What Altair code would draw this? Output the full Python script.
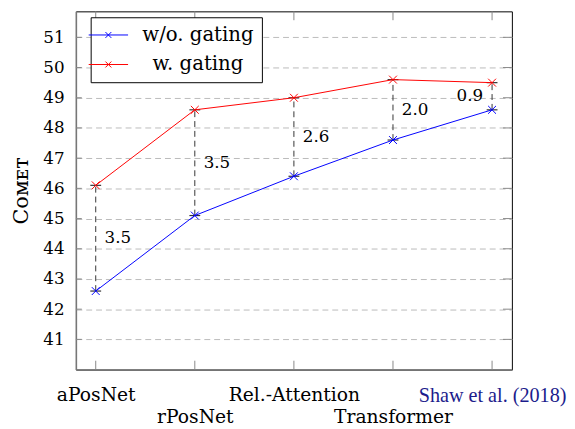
import json
import altair as alt
import pandas as pd

models = ["aPosNet", "rPosNet", "Rel.-Attention", "Transformer", "Shaw et al. (2018)"]
wo_gating = [42.6, 45.1, 46.4, 47.6, 48.6]
w_gating = [46.1, 48.6, 49.0, 49.6, 49.5]
gap_labels = ["3.5", "3.5", "2.6", "2.0", "0.9"]
y_ticks = [41, 42, 43, 44, 45, 46, 47, 48, 49, 50, 51]
series_names = ["w/o. gating", "w. gating"]
series_colors = ["#0000ff", "#ff0000"]

W, H = 443, 364
SERIF = "DejaVu Serif"

idx = list(range(len(models)))
wide = pd.DataFrame({"idx": idx, "wo": wo_gating, "w": w_gating, "gap": gap_labels})
wide["mid"] = (wide["wo"] + wide["w"]) / 2
long = pd.concat([
    pd.DataFrame({"idx": idx, "value": wo_gating, "series": series_names[0]}),
    pd.DataFrame({"idx": idx, "value": w_gating, "series": series_names[1]}),
], ignore_index=True)
yt = pd.DataFrame({"tick": y_ticks})
xt = pd.DataFrame({"idx": idx})

names_js = json.dumps(models)
xs = alt.Scale(domain=[-0.2, 4.2], nice=False, zero=False)
ys = alt.Scale(domain=[40, 51.86], nice=False, zero=False)

xaxis = alt.Axis(
    values=idx,
    labelExpr=f"datum.value % 2 == 1 ? ['', {names_js}[datum.value]] : {names_js}[datum.value]",
    grid=False, ticks=False, title=None,
    labelPadding=16, labelLineHeight=23, labelBaseline="top",
    labelFont={"condition": {"test": "datum.value == 4", "value": "Liberation Serif"}, "value": SERIF},
    labelFontSize={"condition": {"test": "datum.value == 4", "value": 20.5}, "value": 19},
    labelColor={"condition": {"test": "datum.value == 4", "value": "#1c1c8c"}, "value": "#000000"},
    domainColor="#777777", domainWidth=1.5, labelFlush=False, labelOverlap=False,
)
yaxis = alt.Axis(
    values=y_ticks, grid=True, gridDash=[6, 4], gridColor="#bbbbbb", gridWidth=1,
    ticks=False, labelPadding=12, labelFont=SERIF, labelFontSize=17, labelColor="#000000",
    title="Cᴏᴍᴇᴛ", titleFont=SERIF, titleFontSize=21, titleFontWeight="normal",
    titleColor="#000000", titlePadding=12,
    domainColor="#777777", domainWidth=1.5,
)


def X(field):
    return alt.X(field, type="quantitative", scale=xs, axis=xaxis)


def Y(field):
    return alt.Y(field, type="quantitative", scale=ys, axis=yaxis)


legend = alt.Legend(
    orient="none", legendX=15, legendY=6, title=None,
    symbolType="M-5,0H5M-0.75,-0.75L0.75,0.75M-0.75,0.75L0.75,-0.75", symbolSize=64, symbolStrokeWidth=1,
    labelFont=SERIF, labelFontSize=20, labelOffset=81, labelAlign="center", labelColor="#000000",
    padding=8, rowPadding=10, strokeColor="#000000", fillColor="#ffffff",
)
color = alt.Color("series:N", scale=alt.Scale(domain=series_names, range=series_colors), legend=legend)

gap_rules = alt.Chart(wide).mark_rule(color="#333333", strokeDash=[6, 4], strokeWidth=1).encode(
    x=X("idx"), y=Y("wo"), y2="w")
caps = alt.Chart(long).mark_point(shape="M-1,0L1,0", size=121, filled=False, color="#333333",
                                  strokeWidth=1.2, opacity=1).encode(x=X("idx"), y=Y("value"))
lines = alt.Chart(long).mark_line(strokeWidth=1).encode(x=X("idx"), y=Y("value"), color=color)
marks = alt.Chart(long).mark_point(shape="M-1,-1L1,1M-1,1L1,-1", size=64, filled=False,
                                   strokeWidth=1, opacity=1).encode(x=X("idx"), y=Y("value"), color=color)
lab_r = alt.Chart(wide).transform_filter("datum.idx < 4").mark_text(
    align="left", baseline="middle", dx=9, font=SERIF, fontSize=17, color="#000000").encode(
    x=X("idx"), y=Y("mid"), text="gap:N")
lab_l = alt.Chart(wide).transform_filter("datum.idx == 4").mark_text(
    align="right", baseline="middle", dx=-9, font=SERIF, fontSize=17, color="#000000").encode(
    x=X("idx"), y=Y("mid"), text="gap:N")

tick_col = "#888888"
yt_left = alt.Chart(yt).mark_rule(color=tick_col, strokeWidth=1).encode(
    y=Y("tick"), x=alt.value(0), x2=alt.value(6))
yt_right = alt.Chart(yt).mark_rule(color=tick_col, strokeWidth=1).encode(
    y=Y("tick"), x=alt.value(W - 9), x2=alt.value(W))
xt_bot = alt.Chart(xt).mark_rule(color=tick_col, strokeWidth=1).encode(
    x=X("idx"), y=alt.value(H - 9), y2=alt.value(H))
xt_top = alt.Chart(xt).mark_rule(color=tick_col, strokeWidth=1).encode(
    x=X("idx"), y=alt.value(0), y2=alt.value(9))

chart = alt.layer(
    yt_left, yt_right, xt_bot, xt_top, gap_rules, caps, lines, marks, lab_r, lab_l
).properties(
    width=W, height=H,
    autosize=alt.AutoSizeParams(type="none"),
    padding={"left": 69, "top": 0, "right": 56, "bottom": 60},
).configure(font=SERIF).configure_view(stroke="#000000", strokeWidth=1)

chart.save("out.html", embed_options={"renderer": "svg", "actions": False})
